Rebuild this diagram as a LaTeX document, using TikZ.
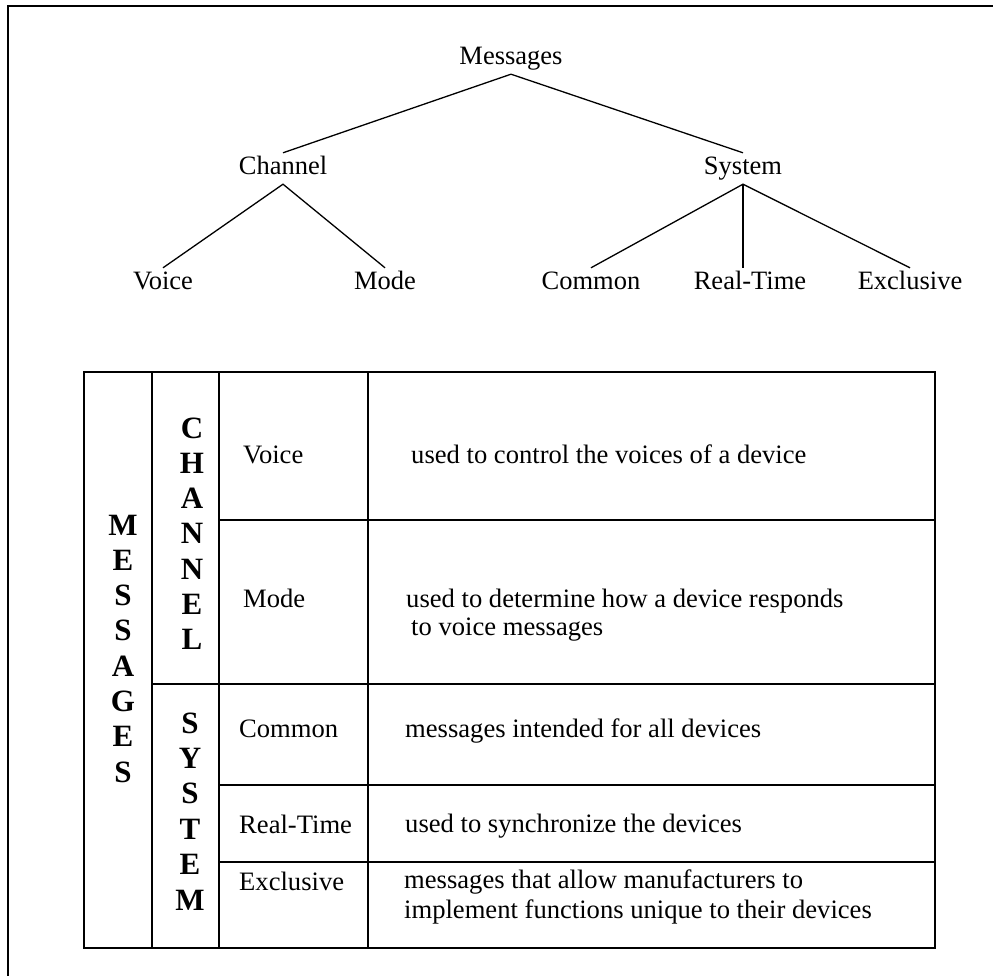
\documentclass[tikz,border=0pt]{standalone}
\usepackage{fontspec}
\setmainfont{Liberation Serif}

\begin{document}
\begin{tikzpicture}
        [x=1pt, y=-1pt,
         treenode/.style={font=\fontsize{26.5}{30}\selectfont, inner sep=4pt,
                          text height=18pt, text depth=5pt, anchor=base},
         celltext/.style={font=\fontsize{26.6}{30}\selectfont, inner sep=0pt, anchor=base west},
         bigletter/.style={font=\fontsize{31}{34}\selectfont\bfseries, inner sep=0pt, anchor=base},
         branch/.style={line width=1.3pt},
         rule/.style={line width=1.5pt}]
        \useasboundingbox (0,0) rectangle (993,976);
        \draw [line width=2pt] (8,976) -- (8,6) -- (993,6);

        % tree
        \node [treenode] (msg) at (511,65) {Messages};
        \node [treenode] (chan) at (283,175) {Channel};
        \node [treenode] (sys) at (743,175) {System};
        \node [treenode] (voice) at (163,290) {Voice};
        \node [treenode] (mode) at (385,290) {Mode};
        \node [treenode] (common) at (591,290) {Common};
        \node [treenode] (realtime) at (750,290) {Real-Time};
        \node [treenode] (excl) at (910,290) {Exclusive};
        \draw [branch] (chan.north) -- (msg.south) -- (sys.north);
        \draw [branch] (voice.north) -- (chan.south) -- (mode.north);
        \draw [branch] (common.north) -- (sys.south) -- (excl.north);
        \draw [branch] (sys.south) -- (sys.south |- realtime.north);

        % table
        \draw [rule] (84,372) rectangle (935,948);
        \foreach \x in {152,219,368}
            \draw [rule] (\x,372) -- (\x,948);
        \draw [rule] (152,684) -- (935,684);
        \foreach \y in {520,785,862}
            \draw [rule] (219,\y) -- (935,\y);

        \foreach \ch [count=\i from 0] in {M,E,S,S,A,G,E,S}
            \node [bigletter] (msgs\i) at (123,{535+35.3*\i}) {\ch};
        \foreach \ch [count=\i from 0] in {C,H,A,N,N,E,L}
            \node [bigletter] (chn\i) at (192,{438+35.3*\i}) {\ch};
        \foreach \ch [count=\i from 0] in {S,Y,S,T,E,M}
            \node [bigletter] (sysm\i) at (190,{733+35.4*\i}) {\ch};

        \node [celltext] (tvoice) at (243,463) {Voice};
        \node [celltext] (tmode) at (243,607) {Mode};
        \node [celltext] (tcommon) at (239,737) {Common};
        \node [celltext] (treal) at (239,833) {Real-Time};
        \node [celltext] (texcl) at (239,890) {Exclusive};

        \node [celltext] (dvoice) at (411,463) {used to control the voices of a device};
        \node [celltext] (dmode) at (406,607) {used to determine how a device responds};
        \node [celltext] (dmodeb) at (411,635) {to voice messages};
        \node [celltext] (dcommon) at (405,737) {messages intended for all devices};
        \node [celltext] (dreal) at (405,832) {used to synchronize the devices};
        \node [celltext] (dexcl) at (404,888) {messages that allow manufacturers to};
        \node [celltext] (dexclb) at (404,918) {implement functions unique to their devices};
    \end{tikzpicture}
\end{document}
